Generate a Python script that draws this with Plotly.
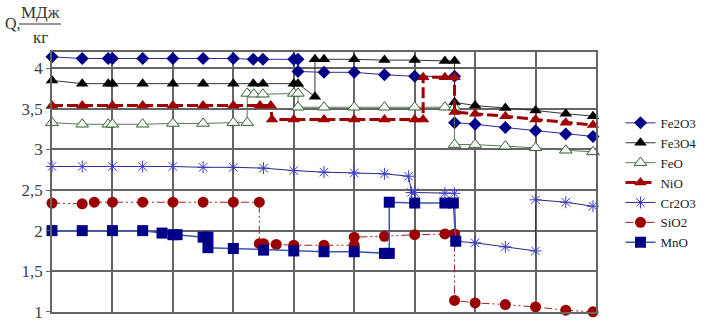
import plotly.graph_objects as go

# ---- data (x in grid units, y in MJ/kg) ----
fe2o3_x = [0, 0.5, 0.93, 1.0, 1.5, 2.0, 2.5, 3.0, 3.33, 3.49, 4.0, 4.07, 4.07, 4.5, 5.0, 5.5, 6.0, 6.66, 6.66, 7.0, 7.5, 8.0, 8.5, 8.95]
fe2o3_y = [4.14, 4.12, 4.12, 4.12, 4.12, 4.12, 4.12, 4.12, 4.11, 4.11, 4.11, 4.11, 3.96, 3.95, 3.95, 3.92, 3.90, 3.90, 3.33, 3.31, 3.27, 3.23, 3.19, 3.16]

fe3o4_x = [0, 0.5, 0.93, 1.0, 1.5, 2.0, 2.5, 3.0, 3.33, 3.49, 4.0, 4.07, 4.35, 4.35, 4.5, 5.0, 5.5, 6.0, 6.5, 6.66, 6.66, 7.0, 7.5, 8.0, 8.5, 8.95]
fe3o4_y = [3.85, 3.81, 3.81, 3.81, 3.81, 3.81, 3.81, 3.81, 3.81, 3.81, 3.81, 3.81, 3.65, 4.11, 4.11, 4.11, 4.10, 4.10, 4.09, 4.09, 3.58, 3.54, 3.51, 3.48, 3.44, 3.41]

feo_x = [0, 0.5, 0.93, 1.0, 1.5, 2.0, 2.5, 3.0, 3.23, 3.23, 3.34, 3.49, 4.0, 4.07, 4.07, 4.5, 5.0, 5.5, 6.0, 6.5, 6.66, 6.66, 7.0, 7.5, 8.0, 8.5, 8.95]
feo_y = [3.33, 3.31, 3.31, 3.31, 3.31, 3.32, 3.32, 3.33, 3.33, 3.69, 3.68, 3.68, 3.69, 3.69, 3.52, 3.52, 3.52, 3.52, 3.52, 3.52, 3.52, 3.06, 3.06, 3.04, 3.02, 2.99, 2.97]

nio_x = [0, 0.5, 1.0, 1.5, 2.0, 2.5, 3.0, 3.44, 3.62, 3.64, 4.0, 4.5, 5.0, 5.5, 6.0, 6.14, 6.14, 6.5, 6.66, 6.66, 7.0, 7.5, 8.0, 8.5, 8.95]
nio_y = [3.54, 3.54, 3.54, 3.54, 3.54, 3.54, 3.54, 3.54, 3.54, 3.37, 3.37, 3.37, 3.37, 3.37, 3.37, 3.37, 3.89, 3.89, 3.89, 3.46, 3.44, 3.41, 3.37, 3.33, 3.30]

cr2o3_x = [0, 0.5, 1.0, 1.5, 2.0, 2.5, 3.0, 3.5, 4.0, 4.5, 5.0, 5.5, 5.9, 5.95, 6.0, 6.5, 6.66, 6.68, 7.0, 7.5, 8.0, 8.0, 8.5, 8.95]
cr2o3_y = [2.79, 2.79, 2.79, 2.79, 2.79, 2.78, 2.78, 2.77, 2.74, 2.72, 2.71, 2.70, 2.67, 2.47, 2.47, 2.46, 2.46, 1.87, 1.85, 1.80, 1.75, 2.38, 2.35, 2.30]

sio2_x = [0, 0.5, 0.7, 1.0, 1.5, 2.0, 2.5, 3.0, 3.43, 3.43, 3.5, 3.71, 4.0, 4.5, 5.0, 5.0, 5.5, 6.0, 6.5, 6.66, 6.66, 7.0, 7.5, 8.0, 8.5, 8.95]
sio2_y = [2.34, 2.33, 2.35, 2.35, 2.35, 2.35, 2.35, 2.35, 2.35, 1.84, 1.84, 1.83, 1.82, 1.82, 1.82, 1.92, 1.93, 1.95, 1.96, 1.96, 1.14, 1.11, 1.09, 1.06, 1.02, 1.00]

mno_x = [0, 0.5, 1.0, 1.5, 1.82, 2.0, 2.07, 2.5, 2.58, 2.58, 3.0, 3.5, 4.0, 4.5, 5.0, 5.5, 5.58, 5.58, 6.0, 6.5, 6.64, 6.68]
mno_y = [2.0, 2.0, 2.0, 2.0, 1.97, 1.95, 1.95, 1.92, 1.92, 1.79, 1.78, 1.76, 1.75, 1.74, 1.74, 1.72, 1.72, 2.35, 2.34, 2.34, 2.34, 1.87]

ytick_vals = [1, 1.5, 2, 2.5, 3, 3.5, 4]
ytick_text = ["1", "1,5", "2", "2,5", "3", "3,5", "4"]
xtick_vals = list(range(0, 10))

SERIF = "Liberation Serif, Times New Roman, DejaVu Serif, serif"
GRID = "#656565"

fig = go.Figure()

def add(name, x, y, line, marker):
    fig.add_trace(go.Scatter(x=x, y=y, name=name, mode="lines+markers",
                             line=line, marker=marker, cliponaxis=False))

add("Fe2O3", fe2o3_x, fe2o3_y,
    dict(color="#2a2a9a", width=1),
    dict(symbol="diamond", size=10, color="#000088", line=dict(width=0)))
add("Fe3O4", fe3o4_x, fe3o4_y,
    dict(color="#333333", width=1),
    dict(symbol="triangle-up", size=11, color="#000000", line=dict(width=0)))
add("FeO", feo_x, feo_y,
    dict(color="#5a7a5a", width=1),
    dict(symbol="triangle-up", size=11, color="#ffffff", line=dict(width=1, color="#2f5f2f")))
add("NiO", nio_x, nio_y,
    dict(color="#a00000", width=3, dash="11px,4px"),
    dict(symbol="triangle-up", size=11, color="#a00000", line=dict(width=0)))
add("Cr2O3", cr2o3_x, cr2o3_y,
    dict(color="#2a2a8a", width=1),
    dict(symbol="asterisk-open", size=10, color="#3c3cc8", line=dict(width=1, color="#3c3cc8")))
add("SiO2", sio2_x, sio2_y,
    dict(color="#a02020", width=1, dash="8px,3px,2px,3px,2px,3px"),
    dict(symbol="circle", size=11, color="#9a0000", line=dict(width=0)))
add("MnO", mno_x, mno_y,
    dict(color="#3a5ab0", width=1.5),
    dict(symbol="square", size=11, color="#000088", line=dict(width=0)))

fig.update_layout(
    width=718, height=321,
    margin=dict(l=52, r=122, t=52, b=9, autoexpand=False),
    paper_bgcolor="white", plot_bgcolor="white",
    font=dict(family=SERIF, size=16, color="#333333"),
    showlegend=True,
    legend=dict(x=1.045, y=0.785, xanchor="left", yanchor="top",
                font=dict(family=SERIF, size=13, color="#222222"),
                bgcolor="rgba(0,0,0,0)", tracegroupgap=0),
    xaxis=dict(range=[0, 9], tickvals=xtick_vals, showticklabels=False,
               showgrid=True, gridcolor=GRID, gridwidth=1.5,
               zeroline=False, showline=True, mirror=True, automargin=False,
               linecolor=GRID, linewidth=1.5, ticks=""),
    yaxis=dict(range=[0.998, 4.2], tickvals=ytick_vals, ticktext=ytick_text,
               showgrid=True, gridcolor=GRID, gridwidth=1.5,
               zeroline=False, showline=True, mirror=True, automargin=False,
               linecolor=GRID, linewidth=1.5,
               ticks="outside", ticklen=4, tickcolor=GRID,
               ticklabeloverflow="allow",
               tickfont=dict(family=SERIF, size=17, color="#404040")),
)

W, H, L, T = 544.0, 260.0, 52.0, 52.0
def px(X):
    return (X - L) / W
def py(Y):
    return (T + H - Y) / H

fig.add_annotation(x=px(3), y=py(24), xref="paper", yref="paper", text="Q,",
                   showarrow=False, xanchor="left", yanchor="middle",
                   font=dict(family=SERIF, size=16, color="#333333"))
fig.add_annotation(x=px(40), y=py(12), xref="paper", yref="paper", text="МДж",
                   showarrow=False, xanchor="center", yanchor="middle",
                   font=dict(family=SERIF, size=17, color="#333333"))
fig.add_annotation(x=px(40), y=py(38), xref="paper", yref="paper", text="кг",
                   showarrow=False, xanchor="center", yanchor="middle",
                   font=dict(family=SERIF, size=17, color="#333333"))
fig.add_shape(type="line", xref="paper", yref="paper",
              x0=px(19), x1=px(61), y0=py(24), y1=py(24),
              line=dict(color="#333333", width=1))

fig.write_html("out.html", config={"displayModeBar": False},
               post_script="document.body.style.margin='0';")
